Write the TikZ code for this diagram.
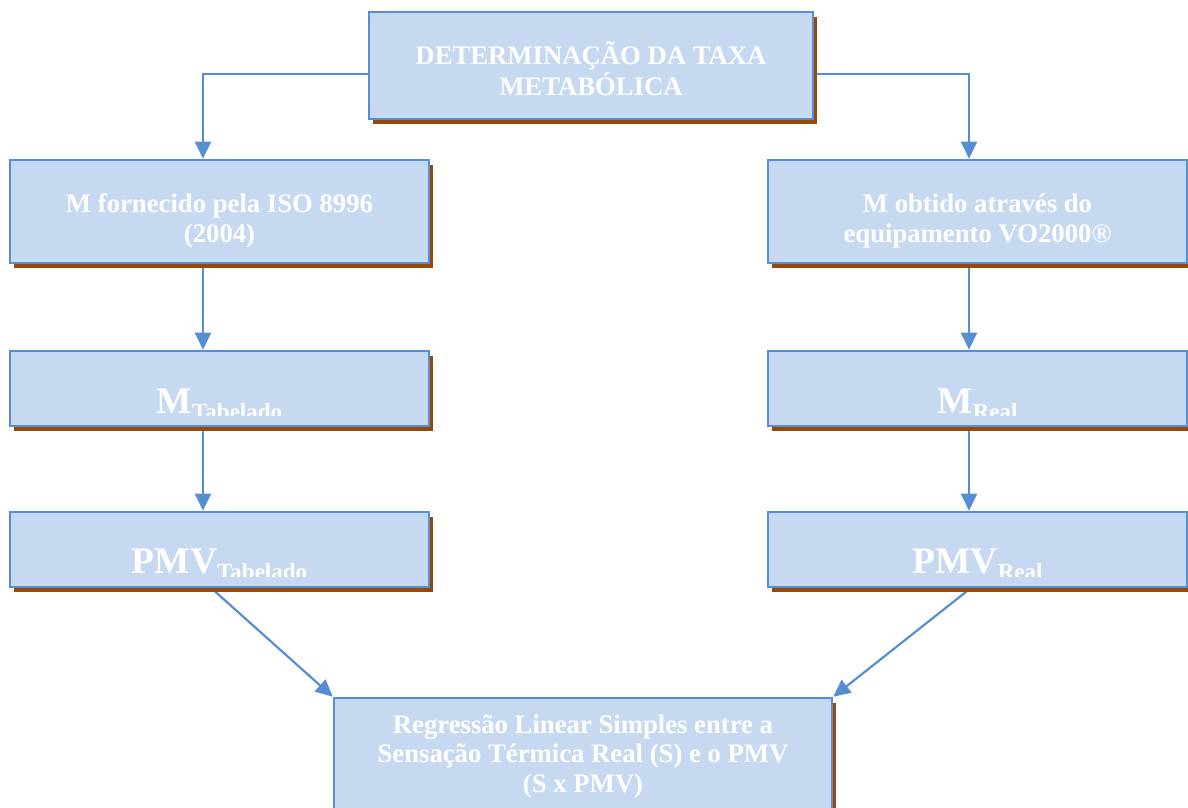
\documentclass[tikz,border=0pt]{standalone}
\usepackage{fontspec}
\setmainfont{Liberation Serif}
\usetikzlibrary{arrows.meta,shadows,backgrounds}
\definecolor{boxfill}{HTML}{C6D9F1}
\definecolor{boxline}{HTML}{558ED5}
\definecolor{shadowbrown}{HTML}{984807}
\tikzset{
	etapa/.style={
			draw=boxline, fill=boxfill, line width=2.6pt, inner sep=0pt,
			drop shadow={shadow xshift=4pt, shadow yshift=-4.5pt, fill=shadowbrown, opacity=1}
		},
	coluna/.style={etapa, minimum width=419pt},
	rotulo/.style={
			text=white, align=center, anchor=base, inner sep=0pt,
			font=\fontsize{26.7}{30.5}\selectfont\bfseries
		},
	seta/.style={draw=boxline, line width=2.2pt, -{Triangle[length=17pt,width=16pt]}}
}
\newcommand{\mvar}[2]{{\fontsize{37.5}{40}\selectfont #1}\raisebox{-6pt}{\fontsize{23}{25}\selectfont #2}}

\begin{document}
\begin{tikzpicture}[x=1pt, y=-1pt]
		% Keep the page to the size of the reference
		\clip (0,0) rectangle (1188,807);

		% Draw the boxes
		\node[etapa, minimum width=444pt, minimum height=107pt] (taxa) at (591,65.5) {};
		\node[coluna, minimum height=103pt] (iso) at (219.5,211.5) {};
		\node[coluna, minimum height=75pt] (mtab) at (219.5,388.5) {};
		\node[coluna, minimum height=75pt] (pmvtab) at (219.5,549.5) {};
		\node[coluna, minimum height=103pt] (vo) at (977.5,211.5) {};
		\node[coluna, minimum height=75pt] (mreal) at (977.5,388.5) {};
		\node[coluna, minimum height=75pt] (pmvreal) at (977.5,549.5) {};
		\node[etapa, minimum width=498pt, minimum height=130pt] (regressao) at (583,763) {};

		% Label the boxes (base is the last line)
		\node[rotulo, font=\fontsize{26.7}{31}\selectfont\bfseries] (taxa-txt) at (591,95) {DETERMINAÇÃO DA TAXA\\METABÓLICA};
		\node[rotulo] (iso-txt) at (219.5,242.5) {M fornecido pela ISO 8996\\(2004)};
		\node[rotulo] (vo-txt) at (977.5,242.5) {M obtido através do\\equipamento VO2000®};
		\node[rotulo, font=\fontsize{26.7}{29.5}\selectfont\bfseries] (regressao-txt) at (583,792) {Regressão Linear Simples entre a\\Sensação Térmica Real (S) e o PMV\\(S x PMV)};

		% The subscripts are cut off at the bottom of the text area
		\begin{scope}
			\clip (0,351) rectangle (1188,415);
			\node[rotulo] (mtab-txt) at (219.5,413) {\mvar{M}{Tabelado}};
			\node[rotulo] (mreal-txt) at (977.5,413) {\mvar{M}{Real}};
		\end{scope}
		\begin{scope}
			\clip (0,512) rectangle (1188,576);
			\node[rotulo] (pmvtab-txt) at (219.5,573) {\mvar{PMV}{Tabelado}};
			\node[rotulo] (pmvreal-txt) at (977.5,573) {\mvar{PMV}{Real}};
		\end{scope}

		% Draw the connectors behind the boxes
		\begin{scope}[on background layer]
			\draw[seta] ([yshift=-8.5pt]taxa.west) -| ([xshift=-16.5pt]iso.north);
			\draw[seta] ([yshift=-8.5pt]taxa.east) -| ([xshift=-8.5pt]vo.north);
			\draw[seta] ([xshift=-16.5pt]iso.south) -- ([xshift=-16.5pt]mtab.north);
			\draw[seta] ([xshift=-16.5pt]mtab.south) -- ([xshift=-16.5pt]pmvtab.north);
			\draw[seta] ([xshift=-8.5pt]vo.south) -- ([xshift=-8.5pt]mreal.north);
			\draw[seta] ([xshift=-8.5pt]mreal.south) -- ([xshift=-8.5pt]pmvreal.north);
			\draw[seta] ([xshift=-8pt]pmvtab.south) -- (regressao.north west);
			\draw[seta] ([xshift=-7pt]pmvreal.south) -- (regressao.north east);
		\end{scope}
	\end{tikzpicture}
\end{document}
